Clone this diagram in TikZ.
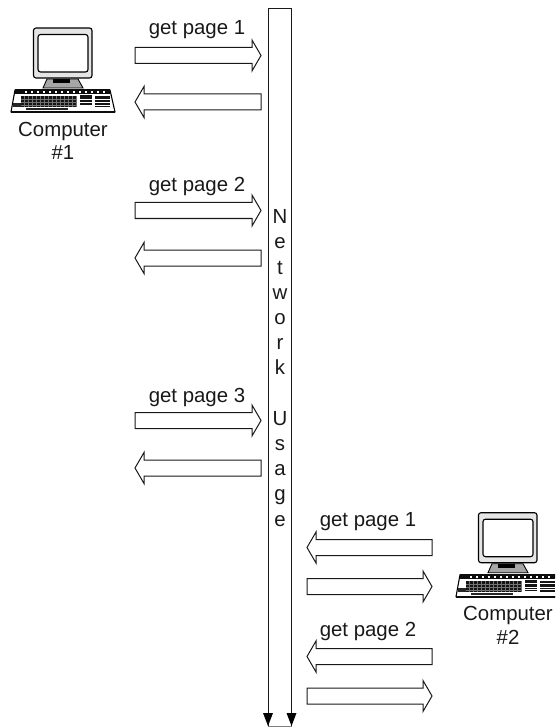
\documentclass[tikz,border=0pt]{standalone}
\usepackage{fontspec}
\setmainfont{Liberation Sans}
\tikzset{
  x=1pt,y=-1pt,
  shaftline/.style={draw=black!90,line width=1pt,fill=white,line join=miter},
  lbl/.style={font=\fontsize{20.4}{25.2}\selectfont,text=black!90,inner sep=0pt,align=center},
  pics/computer/.style={code={
    \draw[line width=1.1pt,rounded corners=2.5pt,fill=black!10] (33.5,28) rectangle (92,78);
    \draw[line width=1.1pt,rounded corners=2.5pt,fill=white] (38,34.5) rectangle (88,72);
    \draw[line width=.9pt,fill=black!35] (47,79) -- (78,79) -- (83,88) -- (43,88) -- cycle;
    \fill[black] (53,79.5) rectangle (70,83.5);
    \draw[line width=1.1pt,fill=white,line join=round] (15,90) -- (110,90) -- (115,112) -- (11,112) -- cycle;
    \fill[black!95] (15,89) rectangle (110,94);
    \fill[black!95] (11,111.5) rectangle (115,113.5);
    \fill[black!92] (21,96) rectangle (77,107.5);
    \fill[black!92] (80,95) rectangle (92,106);
    \fill[black!92] (95,96) rectangle (110,107);
    \fill[black!85] (26,108) rectangle (68,110.5);
    \fill[black!85] (13,103) rectangle (21,107);
    \foreach \kx in {25,31,...,108}{\fill[white] (\kx,91.5) rectangle (\kx+1.6,93);}
    \foreach \ky in {99,102.5,105}{\draw[black!55,line width=.35pt] (21,\ky) -- (77,\ky);\draw[white,line width=.5pt] (80,\ky) -- (92,\ky);\draw[white,line width=.5pt] (95,\ky) -- (110,\ky);}
    \foreach \kx in {24,28,...,76}{\draw[black!55,line width=.35pt] (\kx,96.5) -- (\kx,107);}
  }},
}
\newcommand{\rarrow}[3]{\draw[shaftline] (#1,#3-8) -- (#2-9,#3-8) -- (#2-9,#3-15.5) -- (#2,#3) -- (#2-9,#3+15.5) -- (#2-9,#3+8) -- (#1,#3+8) -- cycle;}
\newcommand{\larrow}[3]{\draw[shaftline] (#2,#3-8) -- (#1+9,#3-8) -- (#1+9,#3-15.5) -- (#1,#3) -- (#1+9,#3+15.5) -- (#1+9,#3+8) -- (#2,#3+8) -- cycle;}
\begin{document}
\begin{tikzpicture}
\useasboundingbox (0,0) rectangle (555,727);
\clip (0,0) rectangle (555,727);
% network column
\coordinate (ntop1) at (268,8.5);
\coordinate (ntop2) at (291.5,8.5);
\coordinate (nbot1) at (268,726);
\coordinate (nbot2) at (291.5,726);
\draw[line width=1pt,black!90] (nbot1) -- (ntop1) -- (ntop2) -- (nbot2);
\draw[line width=.4pt,black!50] (nbot1) -- (nbot2);
\fill[black] (263,713) -- (273,713) -- (268,726) -- cycle;
\fill[black] (286.5,713) -- (296.5,713) -- (291.5,726) -- cycle;
\node[lbl,anchor=north] (net) at (280,209.5) {N\\e\\t\\w\\o\\r\\k\\[25.2pt]U\\s\\a\\g\\e};
% computers
\pic at (0,0) {computer};
\pic at (445,484.7) {computer};
\node[lbl,anchor=base] (c1) at (63,137) {Computer};
\node[lbl,anchor=base] (n1) at (63,160) {\#1};
\node[lbl,anchor=base] (c2) at (508,620.5) {Computer};
\node[lbl,anchor=base] (n2) at (508,644) {\#2};
% arrows
\rarrow{135}{261}{55.5}
\larrow{135}{261}{102}
\rarrow{135}{261}{210.5}
\larrow{135}{261}{258}
\rarrow{135}{261}{420.5}
\larrow{135}{261}{468}
\larrow{307}{432}{547.5}
\rarrow{307}{432}{586.5}
\larrow{307}{432}{656.5}
\rarrow{307}{432}{696}
% labels
\node[lbl,anchor=base] (g1) at (197,35) {get page 1};
\node[lbl,anchor=base] (g2) at (197,191.5) {get page 2};
\node[lbl,anchor=base] (g3) at (197,402) {get page 3};
\node[lbl,anchor=base] (g4) at (368,526.5) {get page 1};
\node[lbl,anchor=base] (g5) at (368,636) {get page 2};
\end{tikzpicture}
\end{document}
